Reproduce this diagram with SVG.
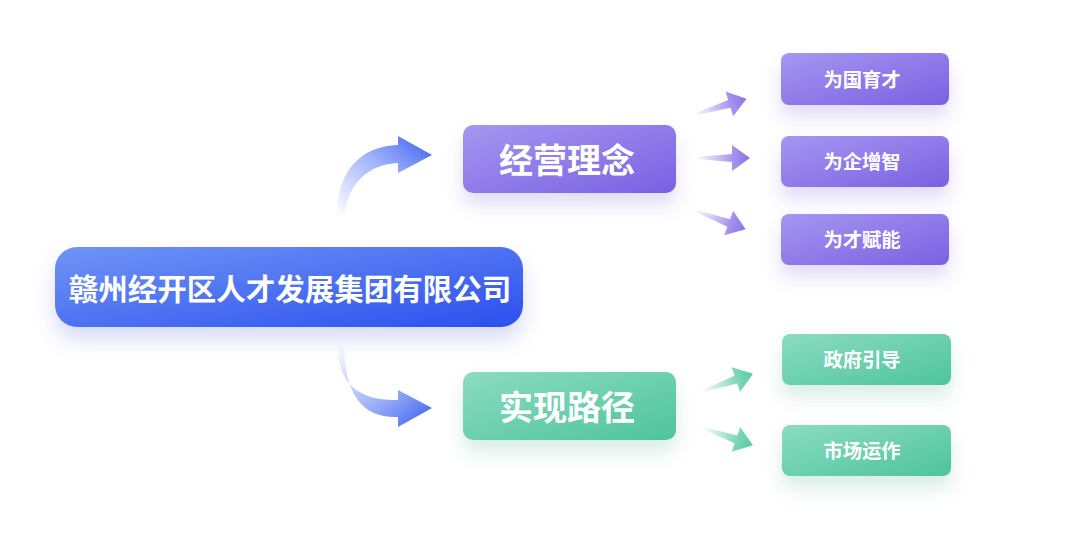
<svg xmlns="http://www.w3.org/2000/svg" width="1080" height="541" viewBox="0 0 1080 541">
<defs>
<style>
.t{font-family:"Noto Sans CJK SC","Noto Sans",sans-serif;fill:#fff;font-weight:700;text-anchor:middle;dominant-baseline:central}
.big{font-size:34px}
.main{font-size:29.5px}
.sm{font-size:19.3px}
</style>
<linearGradient id="gBlue" x1="0" y1="0" x2="1" y2="1"><stop offset="0" stop-color="#7095f6"/><stop offset="1" stop-color="#2a4fee"/></linearGradient>
<linearGradient id="gPur" x1="0" y1="0" x2="1" y2="1"><stop offset="0" stop-color="#a597f1"/><stop offset="1" stop-color="#7a60e2"/></linearGradient>
<linearGradient id="gGrn" x1="0" y1="0" x2="1" y2="1"><stop offset="0" stop-color="#8bdcc1"/><stop offset="1" stop-color="#4ec49c"/></linearGradient>
<linearGradient id="aUp" x1="0" y1="1" x2="1" y2="0"><stop offset="0" stop-color="#6a8af5" stop-opacity="0"/><stop offset="0.5" stop-color="#6a8af5" stop-opacity="0.6"/><stop offset="1" stop-color="#3557f0"/></linearGradient>
<linearGradient id="aDn" x1="0" y1="0" x2="1" y2="1"><stop offset="0" stop-color="#6a8af5" stop-opacity="0"/><stop offset="0.5" stop-color="#6a8af5" stop-opacity="0.6"/><stop offset="1" stop-color="#3557f0"/></linearGradient>
<linearGradient id="aP" x1="0" y1="0" x2="1" y2="0"><stop offset="0" stop-color="#9a84ee" stop-opacity="0"/><stop offset="0.7" stop-color="#8f78ea" stop-opacity="0.8"/><stop offset="1" stop-color="#8a72e8"/></linearGradient>
<linearGradient id="aG" x1="0" y1="0" x2="1" y2="0"><stop offset="0" stop-color="#6fd3b0" stop-opacity="0"/><stop offset="0.7" stop-color="#5ccda6" stop-opacity="0.8"/><stop offset="1" stop-color="#56ca9f"/></linearGradient>
<filter id="shB" x="-20%" y="-40%" width="140%" height="200%"><feDropShadow dx="0" dy="12" stdDeviation="10" flood-color="#5a6fd8" flood-opacity="0.25"/></filter>
<filter id="shP" x="-20%" y="-40%" width="140%" height="200%"><feDropShadow dx="0" dy="12" stdDeviation="9" flood-color="#7a63d8" flood-opacity="0.22"/></filter>
<filter id="shG" x="-20%" y="-40%" width="140%" height="200%"><feDropShadow dx="0" dy="12" stdDeviation="9" flood-color="#4aa888" flood-opacity="0.2"/></filter>
<path id="sa" d="M0,-0.8 L38,-4 L38,-13 L56,0 L38,13 L38,4 L0,0.8 Z"/>
</defs>
<rect width="1080" height="541" fill="#fff"/>
<g id="connectors">
<path d="M337,215 C337,172 360,146 398,145 L398,136 L432,155 L398,173 L398,163 C370,164 348,182 345,215 Z" fill="url(#aUp)"/>
<path d="M337,345 C338,385 360,401 398,400 L398,390 L432,408 L398,427 L398,417 C362,418 345,395 344,345 Z" fill="url(#aDn)"/>
<use href="#sa" fill="url(#aP)" transform="translate(693,115) rotate(-17)"/>
<use href="#sa" fill="url(#aP)" transform="translate(694,158)"/>
<use href="#sa" fill="url(#aP)" transform="translate(693,210) rotate(20)"/>
<use href="#sa" fill="url(#aG)" transform="translate(700,392) rotate(-19)"/>
<use href="#sa" fill="url(#aG)" transform="translate(700,427) rotate(19)"/>
</g>
<g id="main"><rect x="55" y="247" width="468" height="80" rx="22" fill="url(#gBlue)" filter="url(#shB)"/><text class="t main" x="290" y="287">赣州经开区人才发展集团有限公司</text></g>
<g id="jyln"><rect x="463" y="125" width="213" height="68" rx="10" fill="url(#gPur)" filter="url(#shP)"/><text class="t big" x="567" y="158">经营理念</text></g>
<g id="sxlj"><rect x="463" y="372" width="213" height="68" rx="10" fill="url(#gGrn)" filter="url(#shG)"/><text class="t big" x="567" y="405">实现路径</text></g>
<g id="wgyc"><rect x="781" y="53" width="168" height="52" rx="8" fill="url(#gPur)" filter="url(#shP)"/><text class="t sm" x="862" y="78.5">为国育才</text></g>
<g id="wqzz"><rect x="781" y="136" width="168" height="51" rx="8" fill="url(#gPur)" filter="url(#shP)"/><text class="t sm" x="862" y="161">为企增智</text></g>
<g id="wcfn"><rect x="781" y="214" width="168" height="51" rx="8" fill="url(#gPur)" filter="url(#shP)"/><text class="t sm" x="862" y="239">为才赋能</text></g>
<g id="zfyd"><rect x="782" y="334" width="169" height="51" rx="8" fill="url(#gGrn)" filter="url(#shG)"/><text class="t sm" x="862" y="359">政府引导</text></g>
<g id="scyz"><rect x="782" y="425" width="169" height="51" rx="8" fill="url(#gGrn)" filter="url(#shG)"/><text class="t sm" x="862" y="450">市场运作</text></g>
</svg>
